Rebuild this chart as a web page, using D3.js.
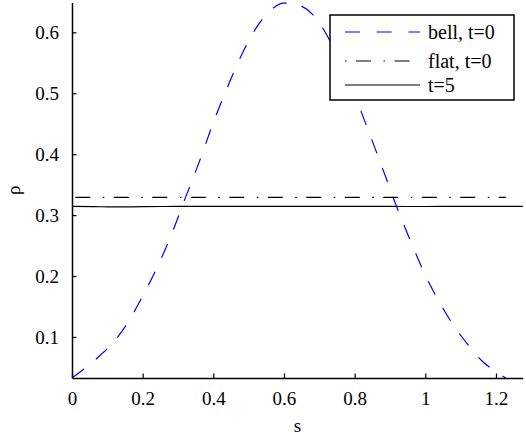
<!DOCTYPE html>
<html>
<head>
<meta charset="utf-8">
<script src="https://cdn.jsdelivr.net/npm/d3@7"></script>
<style>
	body { margin: 0; background: #fff; }
</style>
</head>
<body>
<div class="chart"></div>
<script>
// data
const bellS = [0, 0.04, 0.08, 0.12, 0.16, 0.20, 0.24, 0.28, 0.32, 0.36, 0.40, 0.44, 0.48, 0.52, 0.56, 0.60,
	0.64, 0.68, 0.72, 0.76, 0.80, 0.84, 0.88, 0.92, 0.96, 1.00, 1.04, 1.08, 1.12, 1.16, 1.20, 1.228]
const bellRho = [0.0326, 0.050, 0.070, 0.093, 0.1255, 0.167, 0.213, 0.266, 0.327, 0.387, 0.452, 0.510, 0.563, 0.606, 0.635, 0.648,
	0.645, 0.630, 0.597, 0.549, 0.497, 0.437, 0.375, 0.312, 0.255, 0.2015, 0.157, 0.119, 0.088, 0.061, 0.043, 0.0326]

const flatS = [0, 1.228]
const flatRho = [0.329, 0.329]

const t5S = [0, 0.06, 0.12, 0.2, 0.3, 0.4, 0.5, 0.6, 0.7, 0.8, 0.9, 1.0, 1.1, 1.2, 1.276]
const t5Rho = [0.3145, 0.3140, 0.3134, 0.3139, 0.3142, 0.3143, 0.3143, 0.3142, 0.3143, 0.3143, 0.3142, 0.3141, 0.3143, 0.3143, 0.3143]

const xTicks = [0, 0.2, 0.4, 0.6, 0.8, 1, 1.2]
const xTickLabels = ['0', '0.2', '0.4', '0.6', '0.8', '1', '1.2']
const yTicks = [0.1, 0.2, 0.3, 0.4, 0.5, 0.6]
const yTickLabels = ['0.1', '0.2', '0.3', '0.4', '0.5', '0.6']

const legendLabels = ['bell, t=0', 'flat, t=0', 't=5']

const W = 526, H = 439
const margin = ({ top: 2.5, right: 3.3, bottom: 61, left: 72 })
const width = W - margin.left - margin.right
const height = H - margin.top - margin.bottom
const serif = '"Liberation Serif", "Times New Roman", Times, "DejaVu Serif", serif'

const svg = d3.select('.chart')
	.append('svg')
	.attr('width', W)
	.attr('height', H)
	.attr('font-family', serif)

const g = svg.append('g')
	.attr('transform', 'translate(' + margin.left + ',' + margin.top + ')')

const xScale = d3.scaleLinear()
	.domain([0, 1.2757])
	.range([0, width])

const yScale = d3.scaleLinear()
	.domain([0.0326, 0.649])
	.range([height, 0])

const line = d3.line()
	.x(d => xScale(d[0]))
	.y(d => yScale(d[1]))
	.curve(d3.curveMonotoneX)

const flatDash = '15,12.5,1.5,9.5'

// curves
g.append('path')
	.datum(d3.zip(t5S, t5Rho))
	.attr('d', line)
	.attr('fill', 'none')
	.attr('stroke', '#000')
	.attr('stroke-width', 1.2)

g.append('path')
	.datum(d3.zip(flatS, flatRho))
	.attr('d', line)
	.attr('fill', 'none')
	.attr('stroke', '#000')
	.attr('stroke-width', 1.2)
	.attr('stroke-dasharray', flatDash)
	.attr('stroke-dashoffset', 35.2)

g.append('path')
	.datum(d3.zip(bellS, bellRho))
	.attr('d', line)
	.attr('fill', 'none')
	.attr('stroke', '#0000ff')
	.attr('stroke-width', 1.2)
	.attr('stroke-dasharray', '15,15.5')

// axes (ticks point inward, matlab style)
const xAxis = d3.axisBottom(xScale)
	.tickValues(xTicks)
	.tickFormat((d, i) => xTickLabels[i])
	.tickSizeInner(-4.5)
	.tickSizeOuter(0)
	.tickPadding(14)

const yAxis = d3.axisLeft(yScale)
	.tickValues(yTicks)
	.tickFormat((d, i) => yTickLabels[i])
	.tickSizeInner(-4.5)
	.tickSizeOuter(0)
	.tickPadding(13)

const xAxisGroup = g.append('g')
	.attr('class', 'axis x-axis')
	.attr('transform', `translate(0, ${height})`)
	.call(xAxis)

const yAxisGroup = g.append('g')
	.attr('class', 'axis y-axis')
	.call(yAxis)

g.selectAll('.axis')
	.attr('font-family', serif)
	.attr('font-size', 19)
g.selectAll('.axis .domain')
	.attr('stroke', '#000')
	.attr('stroke-width', 1.5)
g.selectAll('.axis .tick line')
	.attr('stroke', '#000')
	.attr('stroke-width', 1.2)
g.selectAll('.axis text')
	.attr('fill', '#000')

// axis labels
g.append('text')
	.attr('x', width / 2)
	.attr('y', height + 54)
	.attr('text-anchor', 'middle')
	.attr('font-size', 19)
	.text('s')

g.append('text')
	.attr('transform', `translate(${-52}, ${height / 2}) rotate(-90)`)
	.attr('text-anchor', 'middle')
	.attr('font-size', 19)
	.text('ρ')

// legend
const legend = svg.append('g')
	.attr('transform', 'translate(330, 15)')

legend.append('rect')
	.attr('width', 184)
	.attr('height', 85)
	.attr('fill', '#fff')
	.attr('stroke', '#000')
	.attr('stroke-width', 1.5)

const rowY = [17, 46, 70]
const rowStroke = ['#0000ff', '#000', '#000']
const rowDash = ['15,16.7', flatDash, null]
const rowOffset = [0, 27.5, 0]

legendLabels.forEach((label, i) => {
	legend.append('line')
		.attr('x1', 15)
		.attr('x2', 90)
		.attr('y1', rowY[i])
		.attr('y2', rowY[i])
		.attr('stroke', rowStroke[i])
		.attr('stroke-width', 1.2)
		.attr('stroke-dasharray', rowDash[i])
		.attr('stroke-dashoffset', rowOffset[i])
	legend.append('text')
		.attr('x', 98)
		.attr('y', rowY[i])
		.attr('dy', '0.33em')
		.attr('font-size', 20)
		.text(label)
})
</script>
</body>
</html>
